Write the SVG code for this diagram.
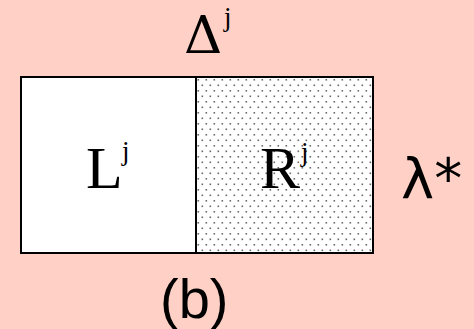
<svg xmlns="http://www.w3.org/2000/svg" width="474" height="329" viewBox="0 0 474 329">
<style>
.serif{font-family:"Liberation Serif","Times New Roman",serif;fill:#000}
.sans{font-family:"Liberation Sans",Arial,sans-serif;fill:#000}
.box{stroke:#000;stroke-width:2}
</style>
<defs>
<pattern id="dots" x="196" y="77" width="8" height="11" patternUnits="userSpaceOnUse">
<rect width="8" height="11" fill="#fff"/>
<rect x="1.5" y="2" width="1.6" height="1.6" fill="#6a6a6a"/>
<rect x="5.5" y="7.5" width="1.6" height="1.6" fill="#6a6a6a"/>
</pattern>
</defs>
<rect width="474" height="329" fill="#FFD0C5"/>
<g id="L">
<rect class="box" x="21" y="77" width="175" height="176" fill="#fff"/>
<text class="serif" x="86" y="188" font-size="60">L</text>
<text class="serif" x="122" y="160" font-size="27">j</text>
</g>
<g id="R">
<rect class="box" x="196" y="77" width="177" height="176" fill="url(#dots)"/>
<text class="serif" x="260" y="188" font-size="60">R</text>
<text class="serif" x="301" y="161" font-size="27">j</text>
</g>
<g id="delta">
<text x="184" y="53" font-size="53" font-family="'DejaVu Serif',serif">Δ</text>
<text class="serif" x="224" y="26" font-size="27">j</text>
</g>
<g id="lambda">
<text x="401" y="198" font-size="56" font-family="'DejaVu Sans',Verdana,sans-serif">λ*</text>
</g>
<g id="caption">
<text class="sans" x="160" y="318" font-size="56">(b)</text>
</g>
</svg>
